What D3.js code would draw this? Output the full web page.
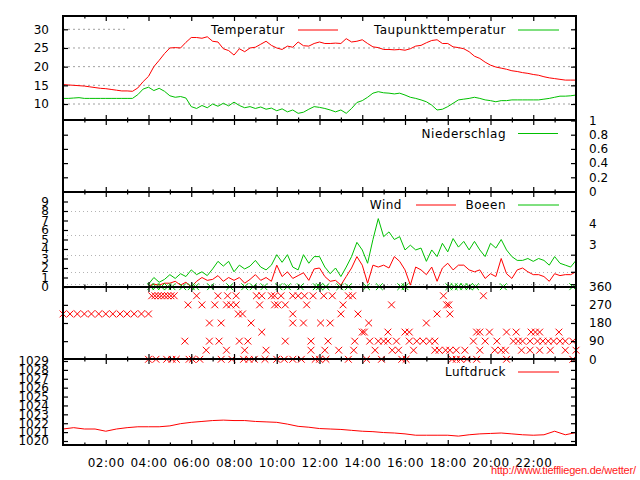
<!DOCTYPE html>
<html><head><meta charset="utf-8">
<script src="https://cdn.jsdelivr.net/npm/d3@7/dist/d3.min.js"></script>
<style>
body{margin:0;background:#fff}
svg{display:block}
text{font-family:"DejaVu Sans",sans-serif;fill:#000}
</style>
</head><body>
<svg id="chart" width="640" height="480"></svg>
<script>
// ---------- DATA ----------
// temperature / dew point every 15 min, 00:00 .. 24:00
const temperatur = [15.2,15.1,15.0,14.9,14.8,14.6,14.4,14.2,14.1,13.9,13.7,13.5,13.5,13.4,14.3,16.0,17.4,20.0,21.7,23.5,25.0,25.1,25.0,26.5,27.8,27.8,27.6,28.0,26.8,26.6,24.8,24.3,23.1,24.8,24.0,25.0,25.2,26.0,26.8,25.7,25.0,24.6,25.5,25.2,26.6,25.6,25.5,26.2,26.6,
 26.2,26.2,26.3,26.2,27.5,26.6,26.8,27.2,26.2,25.3,25.1,24.6,24.6,24.5,24.6,24.4,24.8,25.5,25.7,26.4,27.0,27.2,26.2,26.2,25.3,25.1,24.8,24.0,22.8,22.2,21.2,20.4,19.9,19.6,19.3,18.9,18.7,18.4,18.2,17.9,17.7,17.3,17.0,16.8,16.6,16.4,16.4,16.4];
const taupunkt = [11.5,11.5,11.6,11.7,11.5,11.5,11.5,11.5,11.5,11.5,11.5,11.5,11.5,11.5,12.5,14.0,14.5,13.6,14.2,13.4,12.2,11.8,12.0,11.6,9.3,8.8,9.6,9.0,10.0,9.4,10.2,9.5,10.5,9.6,9.0,9.3,8.8,9.2,8.6,8.9,8.2,8.7,7.9,8.4,7.5,7.8,8.6,9.3,9.1,
 8.8,8.4,7.9,8.4,7.5,8.8,10.4,10.9,11.8,12.9,13.3,13.0,12.9,12.7,12.9,12.4,11.8,11.5,11.1,10.6,9.7,8.4,8.6,9.3,10.2,11.1,11.3,11.5,11.8,11.5,11.1,10.9,10.6,10.9,10.9,11.1,11.1,11.1,11.1,11.1,11.1,11.3,11.5,11.8,12.1,12.1,12.2,12.4];
const tempStartHour = 0, tempStepHour = 0.25;

// wind / gusts (m/s) every 15 min, 04:00 .. 24:00
const wind = [0.1,0.3,0.2,0.4, 0.4,0.6,0.2,0.5, 0.0,0.6,1.0,0.7, 0.8,1.2,0.6,1.0, 0.7,1.0,0.4,0.8, 1.3,0.7,1.0,0.6, 2.3,1.1,1.6,0.9, 1.2,1.5,0.7,1.9,
 2.0,1.1,0.6,0.7, 0.2,1.1,2.0,3.2, 2.3,0.4,2.3,2.1, 2.3,2.0,3.2,2.7, 1.8,0.2,2.1,1.8, 1.3,2.1,0.6,2.0, 2.5,1.8,2.3,2.3, 1.8,1.6,1.8,0.9,
 1.4,1.1,3.0,1.4, 0.9,1.8,2.0,1.6, 1.3,1.3,1.1,0.6, 1.4,1.2,1.3,1.3, 1.6];
const boeen = [0.3,1.0,0.5,0.8, 1.3,0.9,1.4,1.1, 1.8,1.3,1.6,1.2, 1.9,2.7,2.2,2.7, 1.6,2.3,1.9,2.2, 2.8,2.1,1.8,2.3, 3.4,2.6,3.4,2.1, 1.8,3.4,2.5,3.2,
 3.2,2.1,1.4,2.0, 1.1,2.1,3.2,4.7, 3.9,2.5,5.0,7.2, 5.3,5.8,5.0,5.3, 3.9,4.4,3.9,4.1, 2.7,3.9,3.2,4.6, 3.7,5.1,4.2,4.8, 3.9,4.8,3.9,3.2,
 4.6,4.1,5.0,3.9, 3.2,2.8,2.8,3.0, 2.7,3.0,2.8,2.3, 3.2,2.5,2.3,2.1, 2.8];
const windStartHour = 4, windStepHour = 0.25;

// wind direction observations: [hour, degrees]
const richtung = [
 [0,225],[0.33,225],[0.67,225],[1,225],[1.33,225],[1.67,225],[2,225],[2.33,225],[2.67,225],[3,225],[3.33,225],[3.67,225],[4,225],
 [4.15,315],[4.3,315],[4.45,315],[4.6,315],[4.75,315],[4.9,315],[5.05,315],[5.2,315],[6.25,315],[7.25,315],[7.7,315],[8.1,315],[9.05,315],[9.3,315],[9.75,315],[9.9,315],[10.2,315],[10.75,315],[11.0,315],[11.3,315],[11.7,315],[12.2,315],[12.6,315],[13.35,315],[13.55,315],[17.8,315],[19.67,315],
 [5.85,270],[6.5,270],[7.1,270],[7.65,270],[7.85,270],[8.1,270],[9.2,270],[9.9,270],[10.05,270],[10.4,270],[11.4,270],[13.1,270],[15.37,270],[17.95,270],[18.05,270],
 [8.2,225],[8.4,225],[10.75,225],[13.0,225],[13.8,225],[17.5,225],[18.1,225],
 [6.85,180],[7.4,180],[8.8,180],[10.75,180],[11.25,180],[12.05,180],[12.5,180],[14.3,180],[17.0,180],
 [9.3,135],[14.0,135],[14.1,135],[15.2,135],[16.0,135],[16.2,135],[19.35,135],[19.5,135],[19.95,135],[20.75,135],[21.2,135],[21.9,135],[22.1,135],[22.3,135],[23.2,135],
 [5.7,90],[6.85,90],[7.3,90],[8.25,90],[8.65,90],[10.4,90],[11.6,90],[12.4,90],[13.65,90],[14.35,90],[14.75,90],[15.0,90],[15.2,90],[15.6,90],[16.2,90],[16.55,90],[16.85,90],[17.15,90],[17.4,90],[19.2,90],[19.75,90],[20.3,90],[21.07,90],[21.3,90],[21.5,90],[21.85,90],[22.2,90],[22.45,90],[22.7,90],[22.95,90],[23.25,90],[23.5,90],[23.85,90],
 [6.7,45],[7.65,45],[8.5,45],[9.5,45],[11.6,45],[12.25,45],[12.9,45],[13.6,45],[14.6,45],[15.4,45],[15.7,45],[16.4,45],[17.4,45],[17.6,45],[17.9,45],[18.1,45],[18.4,45],[18.8,45],[19.5,45],[20.2,45],[20.5,45],[20.7,45],[21.45,45],[21.85,45],[22.3,45],[22.8,45],[23.5,45],[24.0,45],
 [4.0,0],[4.35,0],[4.85,0],[5.1,0],[5.3,0],[5.9,0],[6.05,0],[6.4,0],[7.4,0],[7.9,0],[8.45,0],[8.7,0],[8.95,0],[9.45,0],[10.0,0],[10.35,0],[10.75,0],[11.15,0],[11.8,0],[12.0,0],[12.3,0],[13.35,0],[14.2,0],[14.9,0],[15.85,0],[16.05,0],[18.2,0],[18.4,0],[18.6,0],[18.9,0],[19.35,0],[20.75,0],[23.85,0]
];
// gust direction observations: [hour, degrees]
const boeenRichtung = [[4.1,360],[4.35,360],[4.6,360],[4.9,360],[5.1,360],[5.6,360],[6.0,360],[6.2,360],[6.9,360],[7.8,360],[8.5,360],[8.9,360],[9.4,360],[10.1,360],[10.5,360],[11.1,360],[11.85,360],
 [12.0,360],[12.3,360],[12.95,360],[13.35,360],[14.2,360],[14.8,360],[15.8,360],[16.0,360],[18.05,360],[18.3,360],[18.5,360],[18.75,360],[19.0,360],[19.3,360],[20.6,360],[23.85,360]];

// pressure (hPa) every 30 min, 00:00 .. 24:00
const luftdruck = [1021.35,1021.5,1021.35,1021.35,1021.1,1021.35,1021.5,1021.6,1021.6,1021.6,1021.7,1021.95,1022.1,1022.2,1022.3,1022.35,1022.3,1022.3,1022.2,1022.15,1022.1,1021.9,1021.65,1021.55,1021.4,
 1021.35,1021.3,1021.2,1021.1,1021.05,1020.95,1020.9,1020.8,1020.65,1020.65,1020.65,1020.65,1020.55,1020.7,1020.8,1020.85,1020.9,1020.8,1020.7,1020.65,1020.7,1021.1,1020.7,1020.95];
const presStartHour = 0, presStepHour = 0.5;

// tick values / labels
const hourLabels = ["02:00","04:00","06:00","08:00","10:00","12:00","14:00","16:00","18:00","20:00","22:00"];
const tempTicks = [10,15,20,25,30];
const rainTicks = [0,0.2,0.4,0.6,0.8,1];
const windTicks = [0,1,2,3,4,5,6,7,8,9];
const beaufortLimits = [0.3,1.6,3.4,5.5,8.0];
const beaufortLabels = [[4.45,"3"],[6.7,"4"]];
const dirTicks = [0,90,180,270,360];
const presTicks = [1020,1021,1022,1023,1024,1025,1026,1027,1028,1029];

// ---------- LAYOUT ----------
const RED = "#ff0000", GREEN = "#00c000";
const svg = d3.select("#chart");
const X0 = 63, X1 = 576;
const x = d3.scaleLinear().domain([0,24]).range([X0,X1]);
const P = {temp:[16,120], rain:[120,192], wind:[192,287], dir:[287,359], pres:[359,445]};
const yT = d3.scaleLinear().domain([10,30]).range([104,29.3]);
const yR = d3.scaleLinear().domain([0,1]).range([191.5,120.5]);
const yW = d3.scaleLinear().domain([0,9]).range([287,201.5]);
const yD = d3.scaleLinear().domain([0,360]).range([359.3,286.7]);
const yP = d3.scaleLinear().domain([1020,1029]).range([441,361]);

const gGrid = svg.append("g"), gData = svg.append("g"), gFrame = svg.append("g"), gText = svg.append("g");

// gridlines
gGrid.selectAll(".gt").data(tempTicks).enter().append("line")
  .attr("x1",X0).attr("x2",X1).attr("y1",d=>yT(d)).attr("y2",d=>yT(d))
  .attr("stroke","#a0a0a0").attr("stroke-dasharray","2,3");
gGrid.selectAll(".gw").data(beaufortLimits).enter().append("line")
  .attr("x1",X0).attr("x2",X1).attr("y1",d=>Math.round(yW(d))+0.5).attr("y2",d=>Math.round(yW(d))+0.5)
  .attr("stroke","#b4b4b4").attr("stroke-dasharray","1,3");
// opaque key box of the top panel
gGrid.append("rect").attr("x",126).attr("y",21).attr("width",448).attr("height",18).attr("fill","#fff");

// lines
function series(arr,start,step){return arr.map((v,i)=>({t:start+i*step,v}));}
function drawLine(data,y,color){
  gData.append("path").datum(data).attr("fill","none").attr("stroke",color).attr("stroke-width",1)
    .attr("d",d3.line().x(d=>x(d.t)).y(d=>y(d.v)));
}
drawLine(series(temperatur,tempStartHour,tempStepHour),yT,RED);
drawLine(series(taupunkt,tempStartHour,tempStepHour),yT,GREEN);
drawLine(series(boeen,windStartHour,windStepHour),yW,GREEN);
drawLine(series(wind,windStartHour,windStepHour),yW,RED);
drawLine(series(luftdruck,presStartHour,presStepHour),yP,RED);

// crosses
const cross = "M-3.4,-3.4L3.4,3.4M-3.4,3.4L3.4,-3.4";
gData.selectAll(".cg").data(boeenRichtung).enter().append("path")
  .attr("d",cross).attr("transform",d=>`translate(${x(d[0])},${yD(d[1])})`)
  .attr("stroke",GREEN).attr("fill","none");
gData.selectAll(".cr").data(richtung).enter().append("path")
  .attr("d",cross).attr("transform",d=>`translate(${x(d[0])},${yD(d[1])})`)
  .attr("stroke",RED).attr("fill","none");

// frames
Object.values(P).forEach(([a,b])=>{
  gFrame.append("rect").attr("x",X0).attr("y",a).attr("width",X1-X0).attr("height",b-a)
    .attr("fill","none").attr("stroke","#000").attr("stroke-width",2);
});

// x ticks
const evenH = d3.range(2,24,2), oddH = d3.range(1,24,2);
function styleAxis(g){g.select(".domain").remove();g.selectAll("line").attr("stroke","#000").attr("stroke-width",1.2);}
Object.values(P).forEach(([a,b])=>{
  [[evenH,5],[oddH,2.5]].forEach(([vals,len])=>{
    gFrame.append("g").attr("transform",`translate(0,${b})`)
      .call(d3.axisBottom(x).tickValues(vals).tickSizeInner(-len).tickSizeOuter(0).tickFormat(""))
      .call(styleAxis);
    gFrame.append("g").attr("transform",`translate(0,${a})`)
      .call(d3.axisTop(x).tickValues(vals).tickSizeInner(-len).tickSizeOuter(0).tickFormat(""))
      .call(styleAxis);
  });
});
// x labels
const xl = gText.append("g").attr("transform",`translate(0,${P.pres[1]})`)
  .call(d3.axisBottom(x).tickValues(evenH).tickSize(0).tickPadding(13.5).tickFormat((d,i)=>hourLabels[i]));
xl.select(".domain").remove();
xl.selectAll("text").attr("font-size",12).attr("font-family","DejaVu Sans").attr("letter-spacing","0.5px").attr("fill","#000");

// y axes
function yAxis(scale,vals,side,labels,fmt){
  const ax = (side==="left"?d3.axisLeft(scale):d3.axisRight(scale))
    .tickValues(vals).tickSizeInner(-5).tickSizeOuter(0).tickPadding(side==="left"?14:13)
    .tickFormat(labels? (fmt||(d=>d)) : "");
  const g = gFrame.append("g").attr("transform",`translate(${side==="left"?X0:X1},0)`).call(ax).call(styleAxis);
  g.selectAll("text").attr("font-size",12).attr("font-family","DejaVu Sans").attr("fill","#000");
  return g;
}
yAxis(yT,tempTicks,"left",true);
yAxis(yT,tempTicks,"right",false);
yAxis(yR,rainTicks.slice(1,5),"left",false);
yAxis(yR,rainTicks,"right",true,d=>String(d));
yAxis(yW,windTicks,"left",true);
yAxis(yW,beaufortLimits,"right",false);
yAxis(yD,[90,180,270],"left",false);
yAxis(yD,dirTicks,"right",true);
yAxis(yP,presTicks,"left",true);
yAxis(yP,presTicks,"right",false);
// Beaufort labels on right of wind panel
gText.selectAll(".bf").data(beaufortLabels).enter().append("text")
  .attr("x",589).attr("y",d=>yW(d[0])).attr("dy","0.35em").attr("font-size",12).text(d=>d[1]);

// legends
function key(label,textEnd,lineX1,lineX2,y,color){
  gText.append("text").attr("x",textEnd).attr("y",y).attr("dy","0.35em").attr("text-anchor","end")
    .attr("font-size",12).attr("letter-spacing","0.5px").text(label);
  gText.append("line").attr("x1",lineX1).attr("x2",lineX2).attr("y1",y).attr("y2",y)
    .attr("stroke",color).attr("stroke-width",1);
}
key("Temperatur",285,298,338,30,RED);
key("Taupunkttemperatur",506,518,559,30,GREEN);
key("Niederschlag",506,518,558,133.5,GREEN);
key("Wind",402,416,456,205,RED);
key("Boeen",506,518,559,205,GREEN);
key("Luftdruck",506,518,559,372,RED);

// source URL
gText.append("text").attr("x",636).attr("y",474).attr("text-anchor","end")
  .attr("font-family","Liberation Sans, Arial, sans-serif").attr("font-size",11)
  .attr("textLength",145).attr("lengthAdjust","spacing")
  .style("font-family","'Liberation Sans', Arial, sans-serif").style("fill","#ff2020")
  .text("http://www.tieffliegen.de/wetter/");
</script>
</body></html>
